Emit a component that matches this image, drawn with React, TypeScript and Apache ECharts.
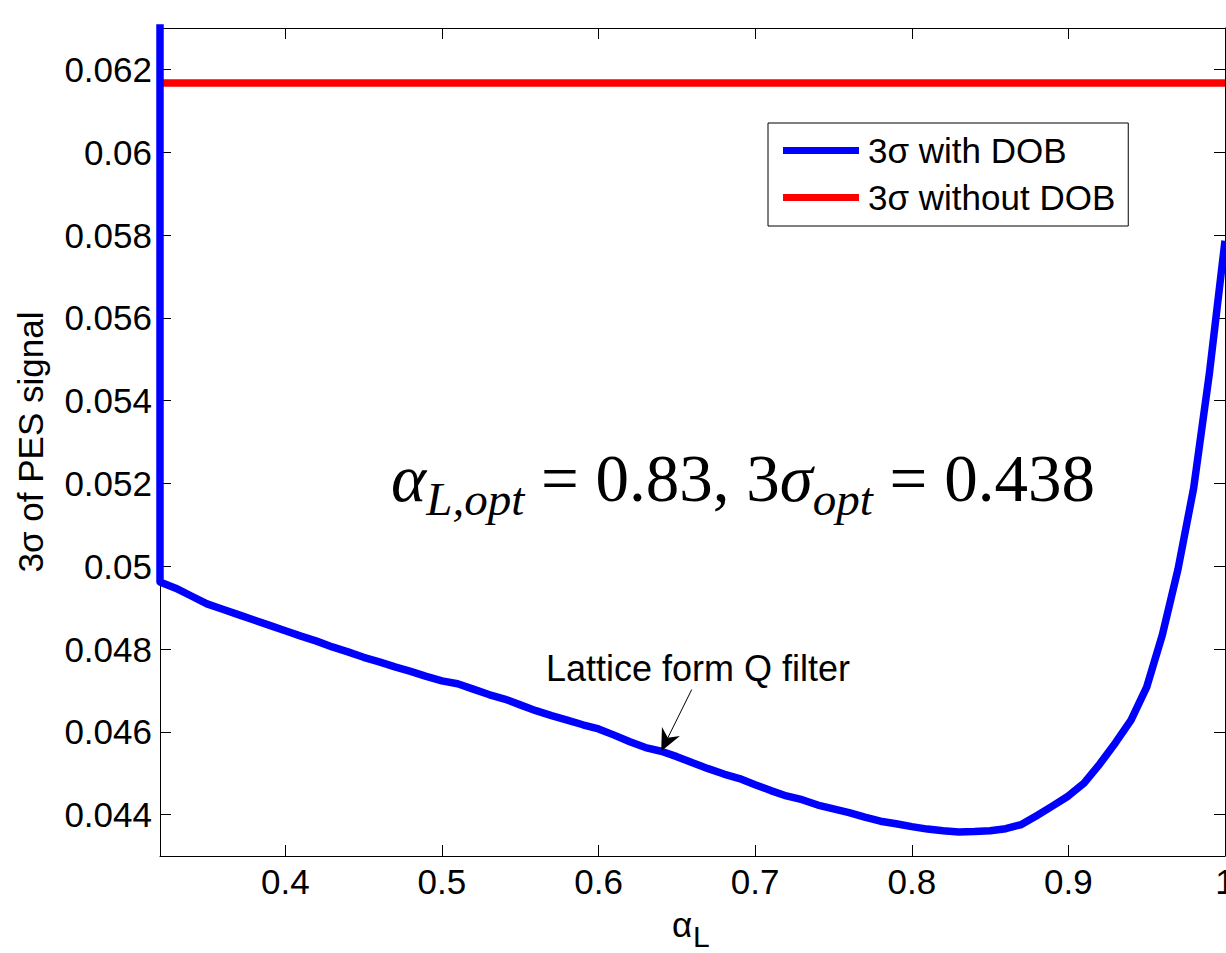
import React, { useEffect, useRef } from 'react';
import * as echarts from 'echarts';

// α_L sweep (x) and the 3σ of the PES signal with the DOB (y)
const alphaL = [
  0.32, 0.33, 0.34, 0.35, 0.36, 0.37, 0.38, 0.39, 0.4, 0.41, 0.42, 0.43, 0.44, 0.45, 0.46, 0.47,
  0.48, 0.49, 0.5, 0.51, 0.52, 0.53, 0.54, 0.55, 0.56, 0.57, 0.58, 0.59, 0.6, 0.61, 0.62, 0.63,
  0.64, 0.65, 0.66, 0.67, 0.68, 0.69, 0.7, 0.71, 0.72, 0.73, 0.74, 0.75, 0.76, 0.77, 0.78, 0.79,
  0.8, 0.81, 0.82, 0.83, 0.84, 0.85, 0.86, 0.87, 0.88, 0.89, 0.9, 0.91, 0.92, 0.93, 0.94, 0.95,
  0.96, 0.97, 0.98, 0.99, 1.0,
];
const sigmaWithDob = [
  0.04962, 0.04947, 0.04928, 0.04909, 0.04896, 0.04883, 0.0487, 0.04857, 0.04844, 0.04831, 0.04819,
  0.04805, 0.04793, 0.0478, 0.04769, 0.04757, 0.04746, 0.04734, 0.04723, 0.04716, 0.04703, 0.0469,
  0.04679, 0.04665, 0.04651, 0.04639, 0.04628, 0.04617, 0.04607, 0.04592, 0.04576, 0.04562, 0.04553,
  0.0454, 0.04525, 0.04511, 0.04498, 0.04487, 0.04472, 0.04458, 0.04445, 0.04436, 0.04423, 0.04414,
  0.04405, 0.04394, 0.04384, 0.04378, 0.04371, 0.04365, 0.04361, 0.04358, 0.04359, 0.04361, 0.04366,
  0.04376, 0.04398, 0.04421, 0.04445, 0.04476, 0.04522, 0.04573, 0.04628, 0.04708, 0.04834, 0.04993,
  0.05189, 0.05465, 0.05786,
];
// the DOB curve enters from above the plotted range at the left edge
const dobEntry = [0.32, 0.064];

// 3σ without the DOB (flat reference level)
const alphaWithoutDob = [0.32, 1.0];
const sigmaWithoutDob = [0.06167, 0.06167];

const xTicks = [0.4, 0.5, 0.6, 0.7, 0.8, 0.9, 1];
const yTicks = [0.044, 0.046, 0.048, 0.05, 0.052, 0.054, 0.056, 0.058, 0.06, 0.062];

const seriesNames = ['3σ with DOB', '3σ without DOB'];
const arrowLabel = 'Lattice form Q filter';
const arrowTip = [0.64, 0.04553];
const arrowTail = [0.6595, 0.04702];
const arrowLabelAt = [0.6635, 0.04752];

const SANS = "'Liberation Sans', Arial, Helvetica, sans-serif";
const SERIF = "'Liberation Serif', 'Times New Roman', serif";

export default function App() {
  const ref = useRef<HTMLDivElement>(null);

  useEffect(() => {
    const el = ref.current;
    if (!el) return;
    const chart = echarts.init(el, null, { renderer: 'svg' });

    const fmt = (v: number) => String(parseFloat(Number(v).toFixed(4)));
    const axisLine = { show: true, onZero: false, lineStyle: { color: '#000', width: 1 } };
    const tickStyle = { color: '#000', width: 1 };

    const withDob = [dobEntry, ...alphaL.map((a, i) => [a, sigmaWithDob[i]])];
    const withoutDob = alphaWithoutDob.map((a, i) => [a, sigmaWithoutDob[i]]);

    chart.setOption({
      animation: false,
      backgroundColor: '#ffffff',
      grid: {
        left: 160,
        right: 1,
        top: 28,
        bottom: 97,
        containLabel: false,
        outerBoundsMode: 'none',
      },
      xAxis: [
        {
          type: 'value',
          position: 'bottom',
          min: 0.32,
          max: 1,
          axisLine,
          axisTick: { show: true, inside: true, length: 11, customValues: xTicks, lineStyle: tickStyle },
          axisLabel: {
            show: true,
            customValues: xTicks,
            formatter: fmt,
            color: '#000',
            fontSize: 35,
            fontFamily: SANS,
            margin: 8,
            hideOverlap: false,
          },
          splitLine: { show: false },
        },
        {
          type: 'value',
          position: 'top',
          min: 0.32,
          max: 1,
          axisLine,
          axisTick: { show: true, inside: true, length: 11, customValues: xTicks, lineStyle: tickStyle },
          axisLabel: { show: false },
          splitLine: { show: false },
        },
      ],
      yAxis: [
        {
          type: 'value',
          position: 'left',
          min: 0.043,
          max: 0.063,
          axisLine,
          axisTick: { show: true, inside: true, length: 11, customValues: yTicks, lineStyle: tickStyle },
          axisLabel: {
            show: true,
            customValues: yTicks,
            formatter: fmt,
            color: '#000',
            fontSize: 35,
            fontFamily: SANS,
            margin: 8,
          },
          splitLine: { show: false },
          name: '3σ of PES signal',
          nameLocation: 'middle',
          nameRotate: 90,
          nameGap: 112,
          nameTextStyle: { color: '#000', fontSize: 35, fontFamily: SANS },
        },
        {
          type: 'value',
          position: 'right',
          min: 0.043,
          max: 0.063,
          axisLine,
          axisTick: { show: true, inside: true, length: 11, customValues: yTicks, lineStyle: tickStyle },
          axisLabel: { show: false },
          splitLine: { show: false },
        },
      ],
      legend: {
        show: true,
        orient: 'vertical',
        left: 768,
        top: 123,
        data: seriesNames,
        icon: 'rect',
        itemWidth: 76,
        itemHeight: 7,
        itemGap: 12,
        padding: [10, 13, 11, 15],
        borderColor: '#000',
        borderWidth: 1,
        backgroundColor: '#fff',
        textStyle: { color: '#000', fontSize: 35, fontFamily: SANS, padding: [0, 0, 0, 4] },
      },
      series: [
        {
          name: seriesNames[0],
          type: 'line',
          xAxisIndex: 0,
          yAxisIndex: 0,
          data: withDob,
          showSymbol: false,
          symbol: 'none',
          clip: true,
          z: 3,
          lineStyle: { color: '#0000ff', width: 7.5, join: 'round' },
          itemStyle: { color: '#0000ff' },
        },
        {
          name: seriesNames[1],
          type: 'line',
          xAxisIndex: 0,
          yAxisIndex: 0,
          data: withoutDob,
          showSymbol: false,
          symbol: 'none',
          clip: true,
          z: 2,
          lineStyle: { color: '#ff0000', width: 7.5 },
          itemStyle: { color: '#ff0000' },
        },
      ],
    });

    const toPx = (p: number[]) =>
      chart.convertToPixel({ xAxisIndex: 0, yAxisIndex: 0 }, p) as number[];

    // arrow pointing at the lattice-form curve
    const tip = toPx(arrowTip);
    const tail = toPx(arrowTail);
    const dx = tip[0] - tail[0];
    const dy = tip[1] - tail[1];
    const len = Math.hypot(dx, dy);
    const ux = dx / len;
    const uy = dy / len;
    const nx = -uy;
    const ny = ux;
    const headLen = 22;
    const headHalf = 10;
    const notch = 7;
    const head = [
      [tip[0], tip[1]],
      [tip[0] - ux * headLen + nx * headHalf, tip[1] - uy * headLen + ny * headHalf],
      [tip[0] - ux * (headLen - notch), tip[1] - uy * (headLen - notch)],
      [tip[0] - ux * headLen - nx * headHalf, tip[1] - uy * headLen - ny * headHalf],
    ];
    const labelPos = toPx(arrowLabelAt);

    chart.setOption({
      graphic: [
        {
          type: 'line',
          shape: { x1: tail[0], y1: tail[1], x2: tip[0] - ux * 10, y2: tip[1] - uy * 10 },
          style: { stroke: '#000', lineWidth: 1 },
          z: 10,
        },
        {
          type: 'polygon',
          shape: { points: head },
          style: { fill: '#000' },
          z: 10,
        },
        {
          type: 'text',
          x: labelPos[0],
          y: labelPos[1],
          z: 10,
          style: {
            text: arrowLabel,
            fill: '#000',
            fontSize: 36,
            fontFamily: SANS,
            align: 'center',
            verticalAlign: 'middle',
          },
        },
        {
          type: 'text',
          x: 743,
          y: 478,
          z: 10,
          style: {
            text: '{m|α}{s|L,opt}{r| = 0.83, 3}{m|σ}{s|opt}{r| = 0.438}',
            align: 'center',
            verticalAlign: 'middle',
            fill: '#000',
            rich: {
              m: {
                fontSize: 67,
                fontFamily: SERIF,
                fontStyle: 'italic',
                lineHeight: 88,
                verticalAlign: 'middle',
                fill: '#000',
              },
              r: {
                fontSize: 67,
                fontFamily: SERIF,
                lineHeight: 88,
                verticalAlign: 'middle',
                fill: '#000',
              },
              s: {
                fontSize: 47,
                fontFamily: SERIF,
                fontStyle: 'italic',
                lineHeight: 50,
                verticalAlign: 'bottom',
                fill: '#000',
              },
            },
          },
        },
        {
          type: 'text',
          x: 672,
          y: 924,
          z: 10,
          style: {
            text: 'α',
            fill: '#000',
            fontSize: 35,
            fontFamily: SANS,
            align: 'left',
            verticalAlign: 'middle',
          },
        },
        {
          type: 'text',
          x: 693,
          y: 936,
          z: 10,
          style: {
            text: 'L',
            fill: '#000',
            fontSize: 30,
            fontFamily: SANS,
            align: 'left',
            verticalAlign: 'middle',
          },
        },
      ],
    });

    return () => chart.dispose();
  }, []);

  return (
    <div
      ref={ref}
      style={{ position: 'fixed', left: 0, top: 0, width: 1226, height: 953, background: '#fff' }}
    />
  );
}
